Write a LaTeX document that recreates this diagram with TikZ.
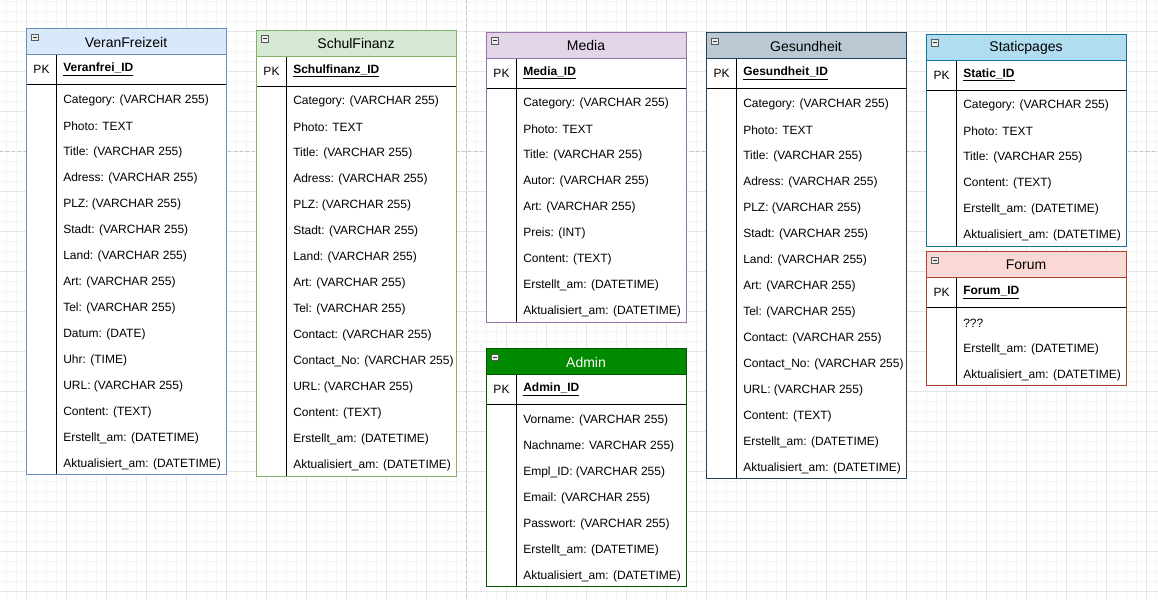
\documentclass[tikz,border=0pt]{standalone}
\usepackage{fontspec}
\setmainfont{Liberation Sans}
\definecolor{veranF}{HTML}{DAE8FC}\definecolor{veranS}{HTML}{6C8EBF}\colorlet{veranT}{black}
\definecolor{schulF}{HTML}{D5E8D4}\definecolor{schulS}{HTML}{82B366}\colorlet{schulT}{black}
\definecolor{mediaF}{HTML}{E1D5E7}\definecolor{mediaS}{HTML}{9673A6}\colorlet{mediaT}{black}
\definecolor{gesundF}{HTML}{BAC8D3}\definecolor{gesundS}{HTML}{23445D}\colorlet{gesundT}{black}
\definecolor{staticF}{HTML}{B1DDF0}\definecolor{staticS}{HTML}{10739E}\colorlet{staticT}{black}
\definecolor{forumF}{HTML}{FAD9D5}\definecolor{forumS}{HTML}{AE4132}\colorlet{forumT}{black}
\definecolor{adminF}{HTML}{008A00}\definecolor{adminS}{HTML}{005700}\colorlet{adminT}{white}
\definecolor{gridminor}{HTML}{F4F4F4}
\definecolor{gridmajor}{HTML}{E6E6E6}
\definecolor{pagebreak}{HTML}{C4C4C4}
\tikzset{
  fieldtext/.style={inner sep=0pt, font=\fontsize{9}{11}\selectfont, text=black},
  titletext/.style={inner sep=0pt, font=\fontsize{10.5}{12}\selectfont},
  tblline/.style={line width=0.75pt},
  iconbox/.style={line width=0.6pt, draw=gray!70!black, fill=gray!15},
}
% #1 name, #2 x, #3 y, #4 colour prefix, #5 title, #6 pk, #7 number of fields, #8 fields
\newcommand{\ertable}[8]{%
  \pgfmathsetmacro{\tbot}{#3+56+26*#7}
  \draw[tblline, draw=#4S, fill=white] (#2,#3) rectangle (#2+200,\tbot);
  \draw[tblline, draw=#4S, fill=#4F] (#2,#3) rectangle (#2+200,#3+26);
  \draw[tblline, black] (#2,#3+56) -- (#2+200,#3+56);
  \draw[tblline, black] (#2+30,#3+26) -- (#2+30,\tbot);
  \draw[tblline, draw=#4S] (#2,#3) rectangle (#2+200,\tbot);
  \draw[tblline, draw=#4S] (#2,#3+26) -- (#2+200,#3+26);
  \node[titletext, text=#4T] (#1-title) at (#2+100,#3+13.5) {#5};
  \draw[iconbox] (#2+5.5,#3+5.5) rectangle (#2+12,#3+12);
  \draw[line width=0.7pt, black!80] (#2+7,#3+8.75) -- (#2+10.5,#3+8.75);
  \node[fieldtext] (#1-pklabel) at (#2+15.5,#3+41) {PK};
  \node[fieldtext, anchor=west] (#1-pk) at (#2+37,#3+41) {\underline{\textbf{#6}}};
  \foreach \f [count=\i] in {#8} {
    \node[fieldtext, anchor=west] (#1-f\i) at (#2+37,#3+56+15.5+26*\i-26) {\f};
  }
}
\begin{document}
\begin{tikzpicture}[x=0.75pt,y=-0.75pt]
\useasboundingbox (0,0) rectangle (1158,600);
\fill[white] (0,0) rectangle (1158,600);
% grid
\foreach \gx in {6.7,16.7,...,1158} \draw[gridminor, line width=0.5pt] (\gx,0) -- (\gx,600);
\foreach \gy in {1.7,11.7,...,600} \draw[gridminor, line width=0.5pt] (0,\gy) -- (1158,\gy);
\foreach \gx in {26.7,66.7,...,1158} \draw[gridmajor, line width=0.6pt] (\gx,0) -- (\gx,600);
\foreach \gy in {31.7,71.7,...,600} \draw[gridmajor, line width=0.6pt] (0,\gy) -- (1158,\gy);
% page breaks
\draw[pagebreak, line width=0.75pt, dash pattern=on 2.25pt off 2.25pt] (466.5,0) -- (466.5,600);
\draw[pagebreak, line width=0.75pt, dash pattern=on 2.25pt off 2.25pt] (0,151.5) -- (1158,151.5);

\ertable{veran}{26}{28.5}{veran}{VeranFreizeit}{Veranfrei\_ID}{15}{Category: (VARCHAR 255), Photo: TEXT, Title: (VARCHAR 255), Adress: (VARCHAR 255), PLZ: (VARCHAR 255), Stadt: (VARCHAR 255), Land: (VARCHAR 255), Art: (VARCHAR 255), Tel: (VARCHAR 255), Datum: (DATE), Uhr: (TIME), URL: (VARCHAR 255), Content: (TEXT), Erstellt\_am: (DATETIME), Aktualisiert\_am: (DATETIME)}

\ertable{schul}{256}{30}{schul}{SchulFinanz}{Schulfinanz\_ID}{15}{Category: (VARCHAR 255), Photo: TEXT, Title: (VARCHAR 255), Adress: (VARCHAR 255), PLZ: (VARCHAR 255), Stadt: (VARCHAR 255), Land: (VARCHAR 255), Art: (VARCHAR 255), Tel: (VARCHAR 255), Contact: (VARCHAR 255), Contact\_No: (VARCHAR 255), URL: (VARCHAR 255), Content: (TEXT), Erstellt\_am: (DATETIME), Aktualisiert\_am: (DATETIME)}

\ertable{media}{486}{32}{media}{Media}{Media\_ID}{9}{Category: (VARCHAR 255), Photo: TEXT, Title: (VARCHAR 255), Autor: (VARCHAR 255), Art: (VARCHAR 255), Preis: (INT), Content: (TEXT), Erstellt\_am: (DATETIME), Aktualisiert\_am: (DATETIME)}

\ertable{admin}{486}{348.5}{admin}{Admin}{Admin\_ID}{7}{Vorname: (VARCHAR 255), Nachname: VARCHAR 255), Empl\_ID: (VARCHAR 255), Email: (VARCHAR 255), Passwort: (VARCHAR 255), Erstellt\_am: (DATETIME), Aktualisiert\_am: (DATETIME)}

\ertable{gesund}{706}{32.5}{gesund}{Gesundheit}{Gesundheit\_ID}{15}{Category: (VARCHAR 255), Photo: TEXT, Title: (VARCHAR 255), Adress: (VARCHAR 255), PLZ: (VARCHAR 255), Stadt: (VARCHAR 255), Land: (VARCHAR 255), Art: (VARCHAR 255), Tel: (VARCHAR 255), Contact: (VARCHAR 255), Contact\_No: (VARCHAR 255), URL: (VARCHAR 255), Content: (TEXT), Erstellt\_am: (DATETIME), Aktualisiert\_am: (DATETIME)}

\ertable{static}{926}{34}{static}{Staticpages}{Static\_ID}{6}{Category: (VARCHAR 255), Photo: TEXT, Title: (VARCHAR 255), Content: (TEXT), Erstellt\_am: (DATETIME), Aktualisiert\_am: (DATETIME)}

\ertable{forum}{926}{251.5}{forum}{Forum}{Forum\_ID}{3}{???, Erstellt\_am: (DATETIME), Aktualisiert\_am: (DATETIME)}
\end{tikzpicture}
\end{document}
